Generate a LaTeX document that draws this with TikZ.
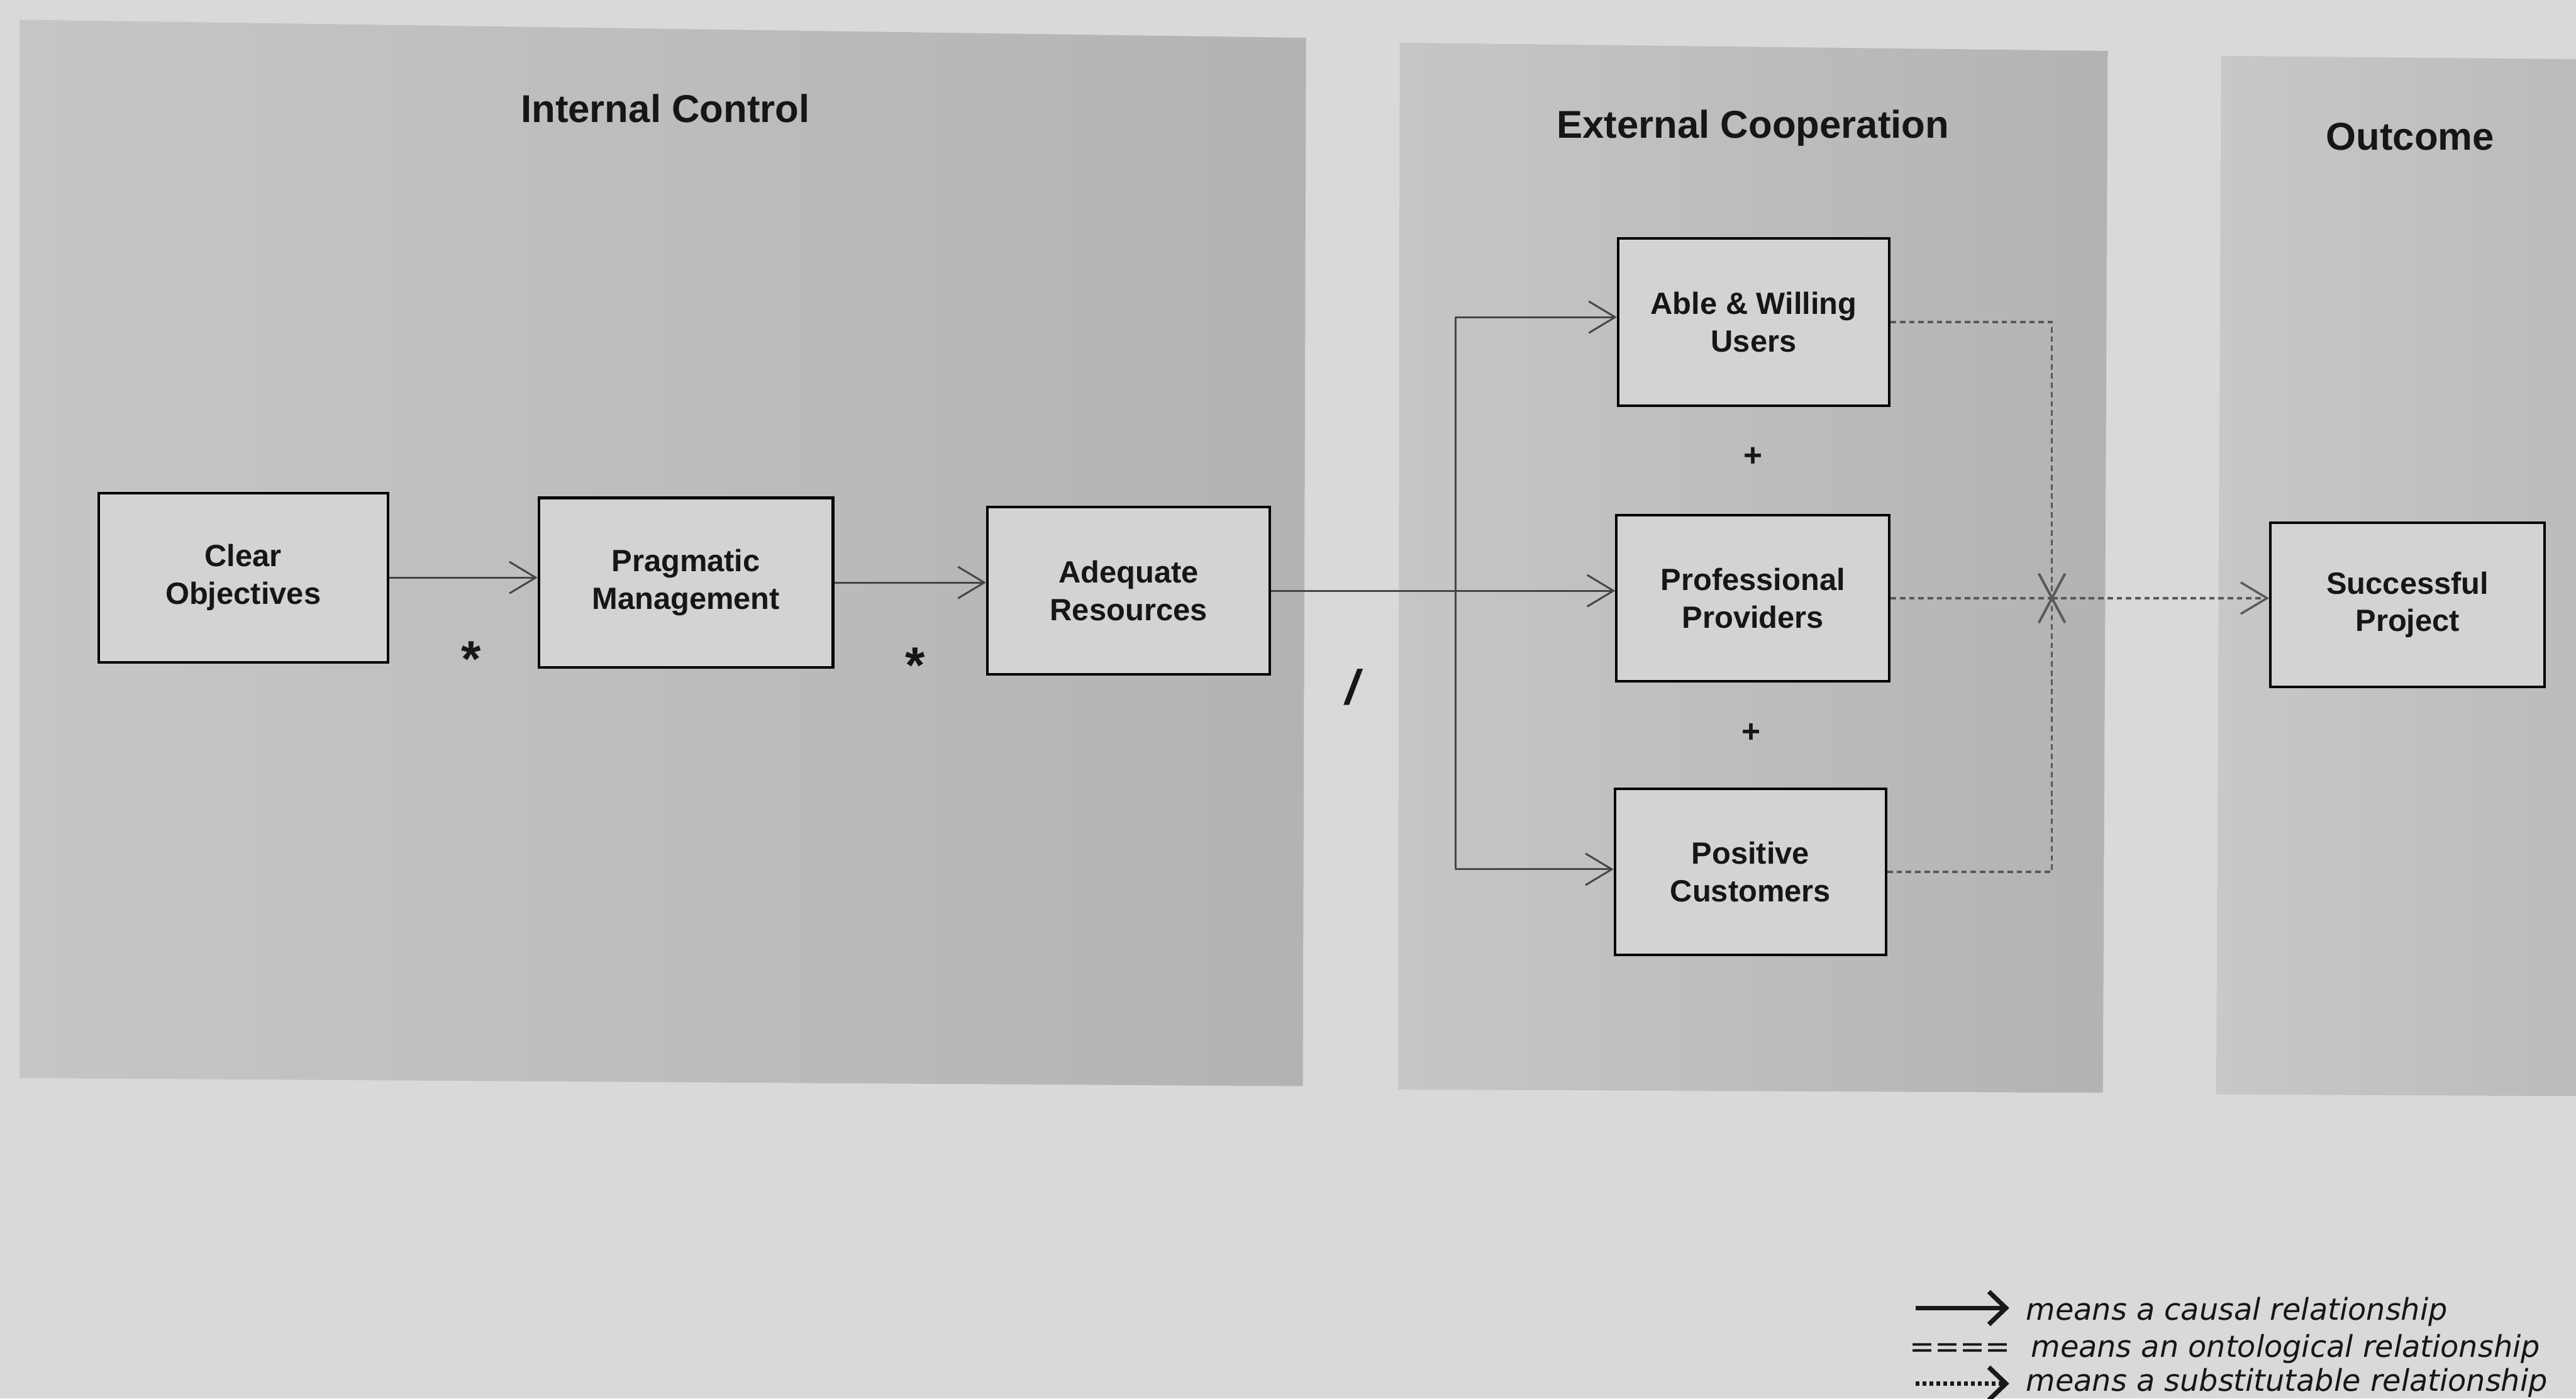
\documentclass[tikz,border=0pt]{standalone}
\usepackage{fontspec}
\setmainfont{Liberation Sans}
\newfontfamily\legendfont{DejaVu Sans}
\usetikzlibrary{arrows.meta}
\definecolor{pagebg}{HTML}{D9D9D9}
\definecolor{panelL}{HTML}{C6C6C6}
\definecolor{panelR}{HTML}{B3B3B3}
\definecolor{boxfill}{HTML}{D3D3D3}
\definecolor{textc}{HTML}{161616}
\definecolor{linec}{HTML}{464646}
\definecolor{dotc}{HTML}{5A5A5A}
\begin{document}
\begin{tikzpicture}[x=0.025cm,y=-0.025cm,
  box/.style={draw=black, line width=1.1pt, fill=boxfill, align=center,
    font=\fontsize{13.3}{16.3}\selectfont\bfseries, text=textc, inner sep=0pt},
  causal/.style={draw=linec, line width=0.8pt,
    -{Straight Barb[length=0.4cm,width=0.48cm]}},
  plainline/.style={draw=linec, line width=0.8pt},
  subst/.style={draw=dotc, line width=0.95pt, dash pattern=on 2.4pt off 1.6pt},
  substarrow/.style={subst, -{Straight Barb[length=0.4cm,width=0.48cm]}},
  paneltitle/.style={font=\fontsize{16.8}{20}\selectfont\bfseries, text=textc},
  symb/.style={font=\fontsize{14}{16}\selectfont\bfseries, text=textc, inner sep=0pt},
  legtext/.style={font=\legendfont\itshape\fontsize{13}{16}\selectfont, text=textc, inner sep=0pt, anchor=base west},
]
% page
\fill[pagebg] (0,0) rectangle (1568,851);
\useasboundingbox (0,0) rectangle (1568,851);
% panels
\path[left color=panelL, right color=panelR] (12,12) -- (795,23) -- (793,661) -- (12,656) -- cycle;
\path[left color=panelL, right color=panelR] (852,26) -- (1283,31) -- (1280,665) -- (851,663) -- cycle;
\path[left color=panelL!90!pagebg, right color=panelR!80!pagebg] (1352,34) -- (1568,36) -- (1568,667) -- (1349,666) -- cycle;
% titles
\node[paneltitle] (t1) at (405,66) {Internal Control};
\node[paneltitle] (t2) at (1067,78) {External Cooperation};
\node[paneltitle] (t3) at (1467,83) {Outcome};
% boxes
\node[box, minimum width=4.4cm, minimum height=2.575cm] (co) at (148,351.5) {Clear\\Objectives};
\node[box, minimum width=4.475cm, minimum height=2.575cm] (pm) at (417.5,354.5) {Pragmatic\\Management};
\node[box, minimum width=4.3cm, minimum height=2.55cm] (ar) at (687,359.5) {Adequate\\Resources};
\node[box, minimum width=4.125cm, minimum height=2.55cm] (au) at (1067.5,196) {Able \& Willing\\Users};
\node[box, minimum width=4.15cm, minimum height=2.525cm] (pp) at (1067,364) {Professional\\Providers};
\node[box, minimum width=4.125cm, minimum height=2.525cm] (pc) at (1065.5,530.5) {Positive\\Customers};
\node[box, minimum width=4.175cm, minimum height=2.5cm] (sp) at (1465.5,368) {Successful\\Project};
% causal connectors
\draw[causal] (co.east) -- (co.east -| pm.west);
\draw[causal] (pm.east) -- (pm.east -| ar.west);
\draw[causal] (ar.east) -- (ar.east -| pp.west);
\coordinate (jt) at (886,193);
\coordinate (jb) at (886,529);
\draw[plainline] (jt) -- (jb);
\draw[causal] (jt) -- (jt -| au.west);
\draw[causal] (jb) -- (jb -| pc.west);
% symbols
\node[symb, font=\fontsize{22}{24}\selectfont\bfseries] (st1) at (287,401) {*};
\node[symb, font=\fontsize{22}{24}\selectfont\bfseries] (st2) at (557,405) {*};
\node[symb, font=\fontsize{21}{24}\selectfont\bfseries\itshape] (sl) at (823,418) {/};
\node[symb] (pl1) at (1067,278) {+};
\node[symb] (pl2) at (1066,446) {+};
% substitutable connectors
\coordinate (xcol) at (1249,0);
\coordinate (xm) at (pp.east -| xcol);
\draw[subst] (au.east) -| (xm);
\draw[subst] (pc.east) -| (xm);
\draw[subst] (pp.east) -- (xm);
\draw[substarrow] (xm) -- (xm -| sp.west);
\draw[dotc, line width=1.1pt] ([shift={(-8,-15)}]xm) -- ([shift={(8,15)}]xm);
\draw[dotc, line width=1.1pt] ([shift={(8,-15)}]xm) -- ([shift={(-8,15)}]xm);
% legend
\coordinate (l1a) at (1166,796);
\coordinate (l1b) at (1223,796);
\draw[black!90, line width=2pt, -{Straight Barb[length=0.26cm,width=0.5cm]}] (l1a) -- (l1b);
\node[legtext] (lt1) at (1233,803.5) {means a causal relationship};
\node[legtext, font=\legendfont\fontsize{13}{16}\selectfont] (lt2s) at (1162,826) {====};
\node[legtext] (lt2) at (1236,826) {means an ontological relationship};
\coordinate (l3a) at (1166,842);
\coordinate (l3b) at (1223,842);
\draw[black!90, line width=2pt, dash pattern=on 1.6pt off 1.4pt, -{Straight Barb[length=0.26cm,width=0.5cm]}] (l3a) -- (l3b);
\node[legtext] (lt3) at (1233,846.5) {means a substitutable relationship};
\end{tikzpicture}
\end{document}
